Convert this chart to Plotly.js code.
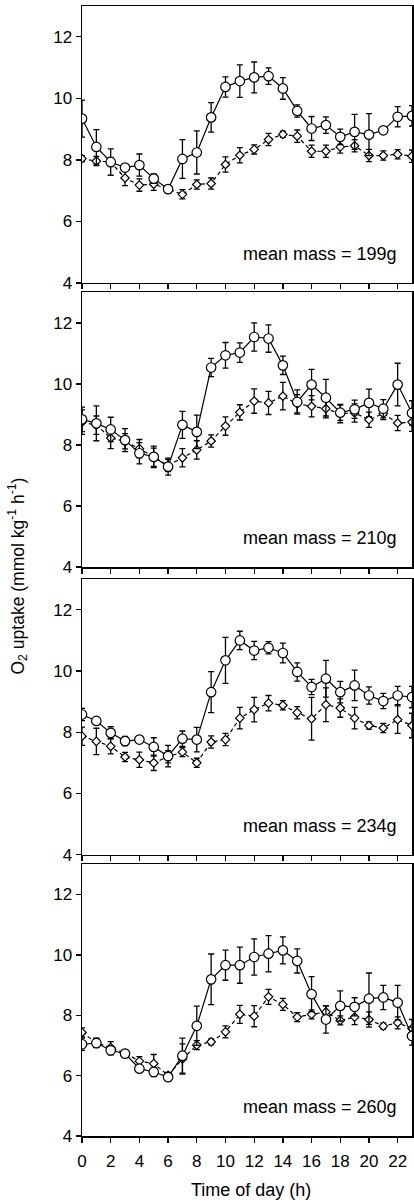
<!DOCTYPE html>
<html>
<head>
<meta charset="utf-8">
<script src="https://cdn.plot.ly/plotly-3.0.1.min.js"></script>
<style>
html,body{margin:0;padding:0;background:#fff;}
#chart{width:414px;height:1204px;}
</style>
</head>
<body>
<div id="chart"></div>
<script>
// ---- data ----
const hours = [0,1,2,3,4,5,6,7,8,9,10,11,12,13,14,15,16,17,18,19,20,21,22,23];
const xTickVals = [0,2,4,6,8,10,12,14,16,18,20,22];
const xTickText = ['0','2','4','6','8','10','12','14','16','18','20','22'];
const yTickVals = [4,6,8,10,12];
const massLabels = ['mean mass = 199g','mean mass = 210g','mean mass = 234g','mean mass = 260g'];

// panel 1 (199 g)
const circles1    = [9.34,8.42,7.93,7.75,7.83,7.39,7.05,8.03,8.24,9.38,10.37,10.56,10.68,10.72,10.32,9.59,9.02,9.13,8.75,8.91,8.82,8.96,9.40,9.43];
const circles1Err = [0.6,0.56,0.43,0.1,0.36,0.15,0.1,0.63,0.7,0.48,0.33,0.53,0.5,0.27,0.35,0.2,0.39,0.27,0.25,0.57,0.68,0.1,0.33,0.33];
const diamonds1    = [8.04,7.96,7.93,7.41,7.18,7.21,7.05,6.88,7.20,7.23,7.85,8.15,8.34,8.66,8.83,8.77,8.28,8.28,8.42,8.46,8.14,8.14,8.18,8.12];
const diamonds1Err = [0.1,0.15,0.15,0.25,0.2,0.2,0.1,0.15,0.15,0.18,0.25,0.25,0.15,0.2,0.1,0.2,0.2,0.2,0.2,0.2,0.2,0.15,0.15,0.2];

// panel 2 (210 g)
const circles2    = [8.84,8.71,8.51,8.16,7.73,7.61,7.29,8.66,8.43,10.54,10.94,11.03,11.54,11.49,10.61,9.41,9.98,9.55,9.06,9.17,9.38,9.19,9.98,9.05];
const circles2Err = [0.4,0.57,0.4,0.38,0.35,0.35,0.28,0.44,0.55,0.3,0.42,0.32,0.46,0.45,0.3,0.4,0.5,0.6,0.25,0.3,0.45,0.3,0.7,0.4];
const diamonds2    = [8.75,8.65,8.23,8.12,7.88,7.60,7.33,7.58,7.84,8.13,8.62,9.07,9.44,9.38,9.60,9.35,9.27,9.19,9.03,9.05,8.83,9.03,8.72,8.75];
const diamonds2Err = [0.4,0.3,0.35,0.25,0.3,0.3,0.2,0.3,0.3,0.2,0.3,0.25,0.4,0.38,0.45,0.3,0.35,0.3,0.3,0.3,0.25,0.2,0.25,0.3];

// panel 3 (234 g)
const circles3    = [8.58,8.37,7.98,7.71,7.76,7.52,7.22,7.79,7.76,9.31,10.35,11.00,10.67,10.76,10.59,9.97,9.48,9.75,9.31,9.53,9.20,9.02,9.20,9.15];
const circles3Err = [0.2,0.1,0.2,0.15,0.1,0.3,0.35,0.25,0.4,0.67,0.75,0.3,0.3,0.2,0.32,0.3,0.25,0.6,0.35,0.5,0.28,0.25,0.3,0.35];
const diamonds3    = [7.87,7.70,7.54,7.19,7.10,7.00,7.20,7.35,7.00,7.68,7.76,8.46,8.74,8.95,8.88,8.64,8.44,8.90,8.79,8.46,8.22,8.14,8.41,8.22];
const diamonds3Err = [0.3,0.43,0.25,0.15,0.25,0.25,0.2,0.15,0.15,0.2,0.2,0.35,0.4,0.25,0.15,0.2,0.7,0.55,0.3,0.35,0.12,0.15,0.45,0.4];

// panel 4 (260 g)
const circles4    = [7.04,7.08,6.84,6.73,6.23,6.12,5.95,6.66,7.65,9.19,9.66,9.66,9.93,10.04,10.15,9.80,8.70,7.86,8.31,8.28,8.55,8.59,8.42,7.31];
const circles4Err = [0.2,0.15,0.15,0.1,0.1,0.15,0.1,0.58,0.65,0.84,0.5,0.6,0.6,0.6,0.45,0.4,0.58,0.45,0.5,0.3,0.85,0.4,0.57,0.3];
const diamonds4    = [7.43,7.09,6.93,6.75,6.48,6.40,6.01,6.55,7.01,7.12,7.45,8.03,7.97,8.61,8.36,7.94,8.03,8.11,7.83,7.94,7.86,7.64,7.75,7.56];
const diamonds4Err = [0.15,0.15,0.2,0.1,0.15,0.3,0.1,0.5,0.15,0.1,0.2,0.3,0.35,0.25,0.2,0.15,0.15,0.2,0.15,0.25,0.25,0.1,0.2,0.3];

const circleSeries  = [[circles1,circles1Err],[circles2,circles2Err],[circles3,circles3Err],[circles4,circles4Err]];
const diamondSeries = [[diamonds1,diamonds1Err],[diamonds2,diamonds2Err],[diamonds3,diamonds3Err],[diamonds4,diamonds4Err]];

// ---- layout ----
const FONT = 'Liberation Sans, Arial, Helvetica, sans-serif';
const domains = [[0.7549,1],[0.5035,0.7465],[0.2490,0.4927],[0,0.2404]];

const traces = [];
const layout = {
  width:414, height:1204,
  margin:{l:82, r:2, t:6, b:68},
  paper_bgcolor:'#fff', plot_bgcolor:'#fff',
  showlegend:false,
  font:{family:FONT, color:'#000'},
  annotations:[]
};

for (let i = 0; i < 4; i++) {
  const n = i + 1;
  const xa = 'x' + n, ya = 'y' + n;
  const errBase = {type:'data', symmetric:true, color:'#000', thickness:1.3, width:3};
  traces.push({
    x: hours, y: diamondSeries[i][0], xaxis: xa, yaxis: ya,
    type:'scatter', mode:'lines+markers',
    line:{color:'#000', width:1.2, dash:'4px,3px'},
    marker:{symbol:'diamond', size:6.5, color:'#fff', line:{color:'#000', width:1.2}},
    error_y:Object.assign({array: diamondSeries[i][1]}, errBase),
    hoverinfo:'skip'
  });
  traces.push({
    x: hours, y: circleSeries[i][0], xaxis: xa, yaxis: ya,
    type:'scatter', mode:'lines+markers',
    line:{color:'#000', width:1.2},
    marker:{symbol:'circle', size:9.5, color:'#fff', line:{color:'#000', width:1.2}},
    error_y:Object.assign({array: circleSeries[i][1]}, errBase),
    hoverinfo:'skip'
  });
  layout['xaxis' + (n === 1 ? '' : n)] = {
    anchor: ya, domain:[0,1], range:[0,23],
    tickmode:'array', tickvals:xTickVals, ticktext:xTickText,
    ticks:'outside', ticklen:5, tickwidth:1.3, tickcolor:'#000',
    showticklabels: n === 4,
    ticklabelstandoff: 4,
    tickfont:{family:FONT, size:17, color:'#000'},
    showline:true, linecolor:'#000', linewidth:1.5, mirror:true,
    showgrid:false, zeroline:false, fixedrange:true
  };
  layout['yaxis' + (n === 1 ? '' : n)] = {
    anchor: xa, domain: domains[i], range:[4,13],
    tickmode:'array', tickvals:yTickVals,
    ticks:'outside', ticklen:5, tickwidth:1.3, tickcolor:'#000',
    tickfont:{family:FONT, size:17, color:'#000'},
    showline:true, linecolor:'#000', linewidth:1.5, mirror:true,
    showgrid:false, zeroline:false, fixedrange:true
  };
  layout.annotations.push({
    xref: xa, yref: ya, x: 22.1, y: 4.95,
    xanchor:'right', yanchor:'middle', showarrow:false,
    text: massLabels[i], font:{family:FONT, size:18, color:'#000'}
  });
}

layout.annotations.push({
  xref:'paper', yref:'paper', x:-0.194, y:0.496,
  xanchor:'center', yanchor:'middle', textangle:-90, showarrow:false,
  text:'O<sub>2</sub> uptake (mmol kg<sup>-1</sup> h<sup>-1</sup>)',
  font:{family:FONT, size:17.5, color:'#000'}
});
layout.annotations.push({
  xref:'paper', yref:'paper', x:0.513, y:-0.048,
  xanchor:'center', yanchor:'middle', showarrow:false,
  text:'Time of day (h)',
  font:{family:FONT, size:18, color:'#000'}
});

Plotly.newPlot('chart', traces, layout, {staticPlot:true, displayModeBar:false});
</script>
</body>
</html>
